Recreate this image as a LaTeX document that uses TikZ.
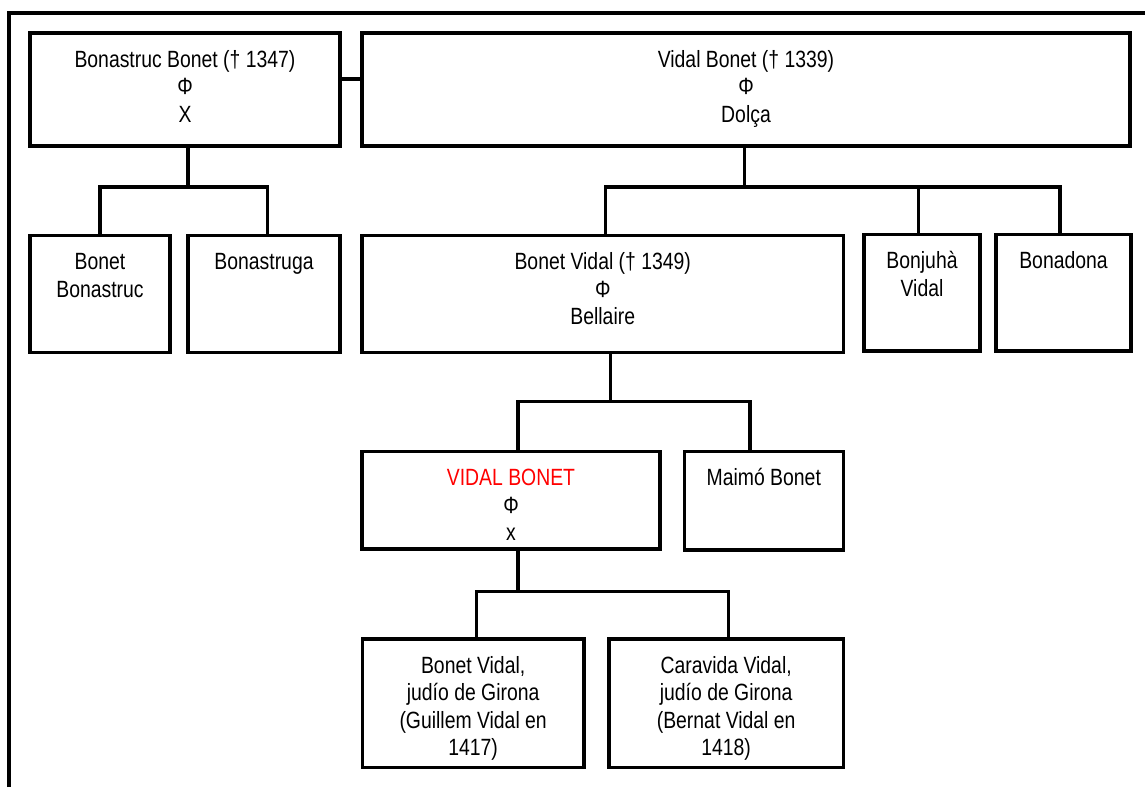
\documentclass[tikz,border=0pt]{standalone}
\usepackage{fontspec}
\setmainfont{Liberation Sans}[FakeStretch=0.825]
\newcommand\myTopStrut{\rule{0pt}{20pt}}
\begin{document}
\begin{tikzpicture}[x=1pt,y=-1pt,
  box/.style={draw, rectangle, line width=3.3pt, inner sep=0pt, outer sep=0pt},
  conn/.style={line width=3.3pt},
  frame/.style={line width=3.8pt},
  txt/.style={anchor=north, inner sep=0pt, outer sep=0pt, align=center,
    font=\fontsize{23.5}{27.5}\selectfont},
  hl/.style={text=red}]
\useasboundingbox (0,0) rectangle (1145,787);
% outer frame (only top and left edges visible)
\draw[frame] (9,787) -- (9,12.7) -- (1145,12.7);

% generation 1
\node[box, minimum width=310pt, minimum height=113pt] (b1) at (185,89.5) {};
\node[box, minimum width=768pt, minimum height=113pt] (b2) at (746,89.5) {};
\node[txt] (b1t) at ([yshift=-14pt]b1.north) {\myTopStrut Bonastruc Bonet († 1347)\\Φ\\X};
\node[txt] (b2t) at ([yshift=-14pt]b2.north) {\myTopStrut Vidal Bonet († 1339)\\Φ\\Dolça};

% generation 2
\node[box, minimum width=140pt, minimum height=117pt] (c1) at (100,294.25) {};
\node[box, minimum width=152pt, minimum height=117pt] (c2) at (264,294.25) {};
\node[box, minimum width=481.5pt, minimum height=117pt] (d1) at (602.75,294.25) {};
\node[box, minimum width=116pt, minimum height=116.5pt] (d2) at (922,292.75) {};
\node[box, minimum width=135pt, minimum height=116.5pt] (d3) at (1063.5,292.75) {};
\node[txt] (c1t) at ([yshift=-14pt]c1.north) {\myTopStrut Bonet\\Bonastruc};
\node[txt] (c2t) at ([yshift=-14pt]c2.north) {\myTopStrut Bonastruga};
\node[txt] (d1t) at ([yshift=-14pt]d1.north) {\myTopStrut Bonet Vidal († 1349)\\Φ\\Bellaire};
\node[txt] (d2t) at ([yshift=-14pt]d2.north) {\myTopStrut Bonjuhà\\Vidal};
\node[txt] (d3t) at ([yshift=-14pt]d3.north) {\myTopStrut Bonadona};

% generation 3
\node[box, minimum width=298pt, minimum height=97.3pt] (e1) at (511,500.35) {};
\node[box, minimum width=159pt, minimum height=98.3pt] (e2) at (763.8,500.85) {};
\node[txt] (e1t) at ([yshift=-14pt]e1.north) {\myTopStrut\textcolor{red}{VIDAL BONET}\\Φ\\x};
\node[txt] (e2t) at ([yshift=-14pt]e2.north) {\myTopStrut Maimó Bonet};

% generation 4
\node[box, minimum width=221.7pt, minimum height=128.5pt] (f1) at (473.15,703.25) {};
\node[box, minimum width=234.3pt, minimum height=128.5pt] (f2) at (726.15,703.25) {};
\node[txt] (f1t) at ([yshift=-14pt]f1.north) {\myTopStrut Bonet Vidal,\\judío de Girona\\(Guillem Vidal en\\1417)};
\node[txt] (f2t) at ([yshift=-14pt]f2.north) {\myTopStrut Caravida Vidal,\\judío de Girona\\(Bernat Vidal en\\1418)};

% connectors
\draw[conn] ([yshift=10.5pt]b1.east) -- ([yshift=10.5pt]b2.west);

\coordinate (j1) at (188,187);
\coordinate (c2top) at ([xshift=3.5pt]c2.north);
\draw[conn] ([xshift=3pt]b1.south) -- (j1);
\draw[conn] (c1.north) |- (j1) -| (c2top);

\coordinate (j2) at (744.6,187);
\coordinate (d1top) at ([xshift=2.75pt]d1.north);
\coordinate (d2top) at ([xshift=-3.3pt]d2.north);
\coordinate (d3top) at ([xshift=-3.5pt]d3.north);
\draw[conn] ([xshift=-1.4pt]b2.south) -- (j2);
\draw[conn] (d1top) |- (j2) -| (d3top);
\draw[conn] (d2top) -- (d2top |- j2);

\coordinate (j3) at (610.3,401.7);
\coordinate (e1top) at ([xshift=7pt]e1.north);
\coordinate (e2top) at ([xshift=-13.8pt]e2.north);
\draw[conn] ([xshift=7.55pt]d1.south) -- (j3);
\draw[conn] (e1top) |- (j3) -| (e2top);

\coordinate (j4) at (518,591.7);
\coordinate (f1top) at ([xshift=3.55pt]f1.north);
\coordinate (f2top) at ([xshift=2.15pt]f2.north);
\draw[conn] ([xshift=7pt]e1.south) -- (j4);
\draw[conn] (f1top) |- (j4) -| (f2top);
\end{tikzpicture}
\end{document}
